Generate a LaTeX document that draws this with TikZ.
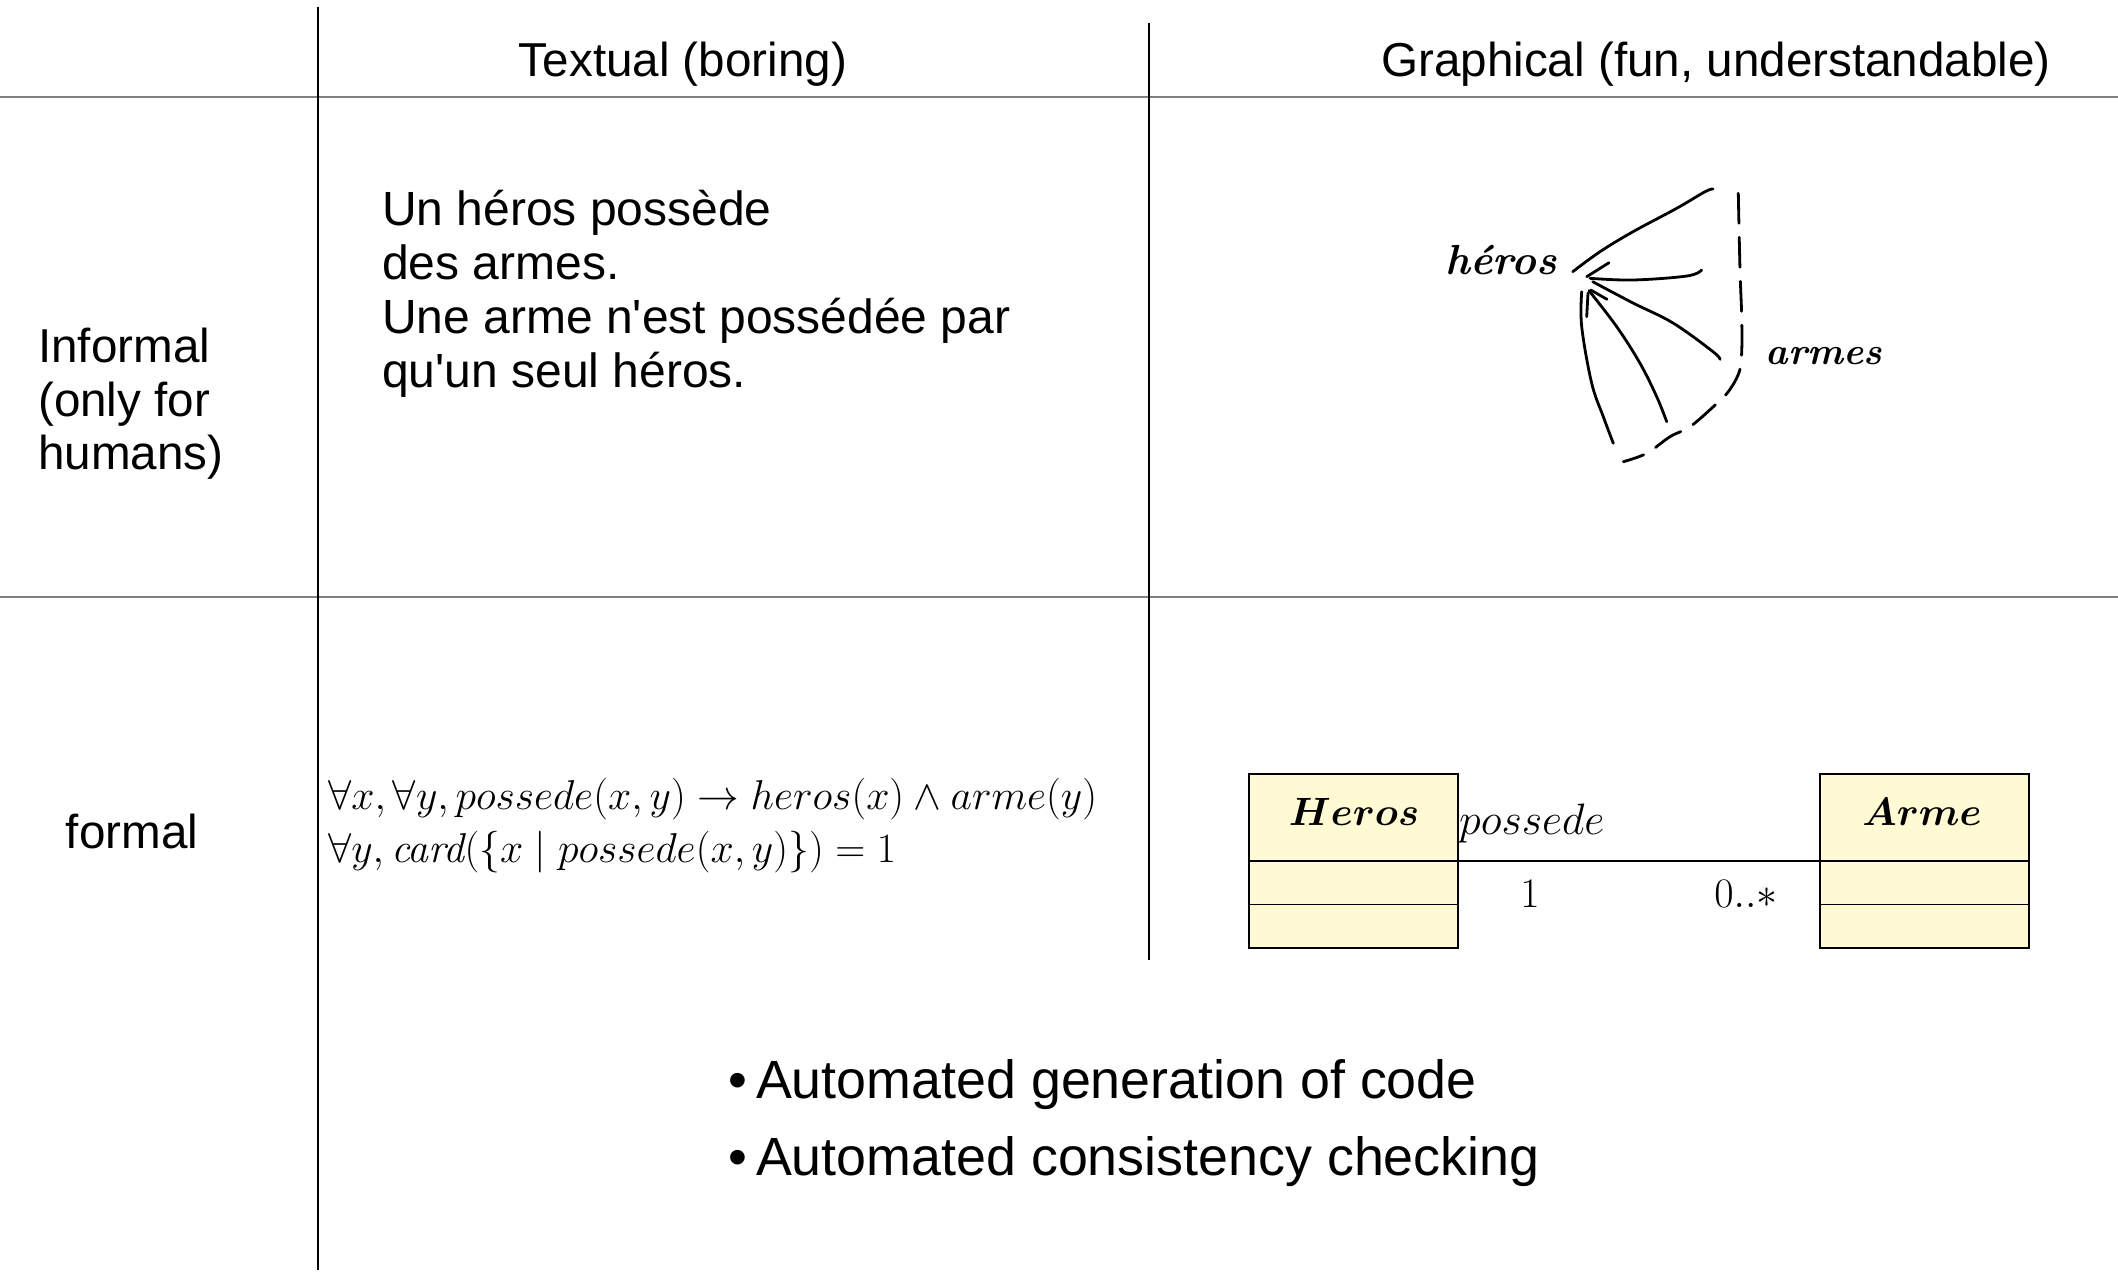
\RequirePackage{fix-cm}
\documentclass[tikz,border=0pt]{standalone}
\usepackage[no-math]{fontspec}
\usepackage{amsmath}
\newfontfamily\arialfam{Liberation Sans}
\definecolor{umlfill}{RGB}{255,250,212}
\definecolor{rulegray}{RGB}{128,128,128}

\tikzset{
  hline/.style={draw=rulegray, line width=2.2pt},
  vline/.style={draw=black, line width=1.3pt},
  headtext/.style={font=\arialfam\fontsize{47.6}{53.5}\selectfont, inner sep=0pt},
  bodytext/.style={font=\arialfam\fontsize{48}{54}\selectfont, inner sep=0pt, align=left},
  bullettext/.style={font=\arialfam\fontsize{53.8}{77}\selectfont, inner sep=0pt},
  mathtext/.style={font=\fontsize{41.7}{53}\selectfont, inner sep=0pt, align=left},
  umlbox/.style={draw=black, line width=2pt, fill=umlfill, minimum width=209pt, minimum height=174pt, inner sep=0pt},
  umllabel/.style={font=\fontsize{42}{50}\selectfont, inner sep=0pt},
  umlname/.style={font=\fontsize{39.5}{46}\selectfont, inner sep=0pt, anchor=base},
  assoc/.style={draw=black, line width=1.6pt},
  sketch/.style={draw=black, line width=2.8pt, line cap=round, line join=round},
  sketchdash/.style={sketch, dash pattern=on 30pt off 14pt},
  handtext/.style={font=\bfseries\itshape\fontsize{#1}{46}\selectfont, inner sep=0pt}
}

\begin{document}
\begin{tikzpicture}[x=1pt, y=-1pt]
  \useasboundingbox[fill=white] (0,0) rectangle (2118,1272);

  % table rules
  \draw[hline] (0,97) -- (2118,97);
  \draw[hline] (0,597) -- (2118,597);
  \draw[vline] (318,7) -- (318,1270);
  \draw[vline] (1149,23) -- (1149,960);

  % column headings
  \node[headtext, anchor=base] (colText) at (683,76) {Textual (boring)};
  \node[headtext, anchor=base] (colGraph) at (1716,76) {Graphical (fun, understandable)};

  % row headings
  \node[headtext, align=left, anchor=north west] (rowInformal) at (38,328)
    {Informal\\(only for\\humans)};
  \node[headtext, anchor=base] (rowFormal) at (132,848) {formal};

  % informal, textual
  \node[bodytext, anchor=north west] (prose) at (382,190)
    {Un héros possède\\des armes.\\Une arme n'est possédée par\\qu'un seul héros.};

  % formal, textual
  \node[mathtext, anchor=north west] (logic) at (328,778)
    {$\forall x, \forall y, possede(x,y) \rightarrow heros(x) \wedge arme(y)$\\
     $\forall y, \textit{card}(\{x \mid possede(x,y)\}) = 1$};

  % informal, graphical: hand sketch
  \node[handtext=42] (handHeros) at (1501,260) {héros};
  \node[handtext=38] (handArmes) at (1824,356) {armes};
  \draw[sketch] plot[smooth, tension=0.6] coordinates
    {(1572.7,271.7) (1600,251.7) (1633,231.7) (1676.7,208.3) (1705,191.7) (1713,189)};
  \draw[sketch] plot[smooth, tension=0.6] coordinates
    {(1590,278.3) (1633,280) (1687,276) (1701.7,270)};
  \draw[sketch] (1609,262.7) -- (1586.7,276.7);
  \draw[sketch] plot[smooth, tension=0.6] coordinates
    {(1592.7,281.7) (1633,303) (1673,323) (1713,351.7) (1720,359.3)};
  \draw[sketch] plot[smooth, tension=0.6] coordinates
    {(1589,290.7) (1616.7,326.7) (1640,363.3) (1656.7,396.7) (1666.7,421.7)};
  \draw[sketch] (1607,299.3) -- (1590.7,290);
  \draw[sketch] (1586.7,316.7) -- (1588,293);
  \draw[sketch] plot[smooth, tension=0.6] coordinates
    {(1581.7,291.7) (1581.7,326.7) (1591.7,383.3) (1603.3,416.7) (1613.3,443.3)};
  \draw[sketchdash] plot[smooth, tension=0.6] coordinates
    {(1738.3,193.3) (1740,270) (1741.7,316.7) (1741.7,351.7) (1739.3,371.7)
     (1728.3,391.7) (1713.3,406.7) (1690,426.7) (1670,436.7) (1646.7,453.3) (1623.3,461.7)};

  % formal, graphical: class diagram
  \node[umlbox] (heros) at (1353.5,861) {};
  \node[umlbox] (arme) at (1924.5,861) {};
  \draw[assoc] ([yshift=-43.5pt]heros.west) -- ([yshift=-43.5pt]heros.east);
  \draw[assoc] ([yshift=-43.5pt]arme.west) -- ([yshift=-43.5pt]arme.east);
  \draw[assoc] (heros.west) -- (heros.east);
  \draw[assoc] (arme.west) -- (arme.east);
  \draw[assoc] (heros.east) -- (arme.west);
  \node[umlname] (herosName) at (1354,825) {$\boldsymbol{Heros}$};
  \node[umlname] (armeName) at (1922,825) {$\boldsymbol{Arme}$};
  \node[font=\fontsize{44}{50}\selectfont, inner sep=0pt, anchor=base west] (assocName) at (1459,834) {$possede$};
  \node[umllabel, anchor=base] (multHeros) at (1530,907) {$1$};
  \node[umllabel, anchor=base] (multArme) at (1746,907) {$0..*$};

  % benefits of the formal, graphical form
  \node[bullettext, anchor=base west] (benefitCode) at (728,1098)
    {•\hspace{9pt}Automated generation of code};
  \node[bullettext, anchor=base west] (benefitCheck) at (728,1175)
    {•\hspace{9pt}Automated consistency checking};
\end{tikzpicture}
\end{document}
